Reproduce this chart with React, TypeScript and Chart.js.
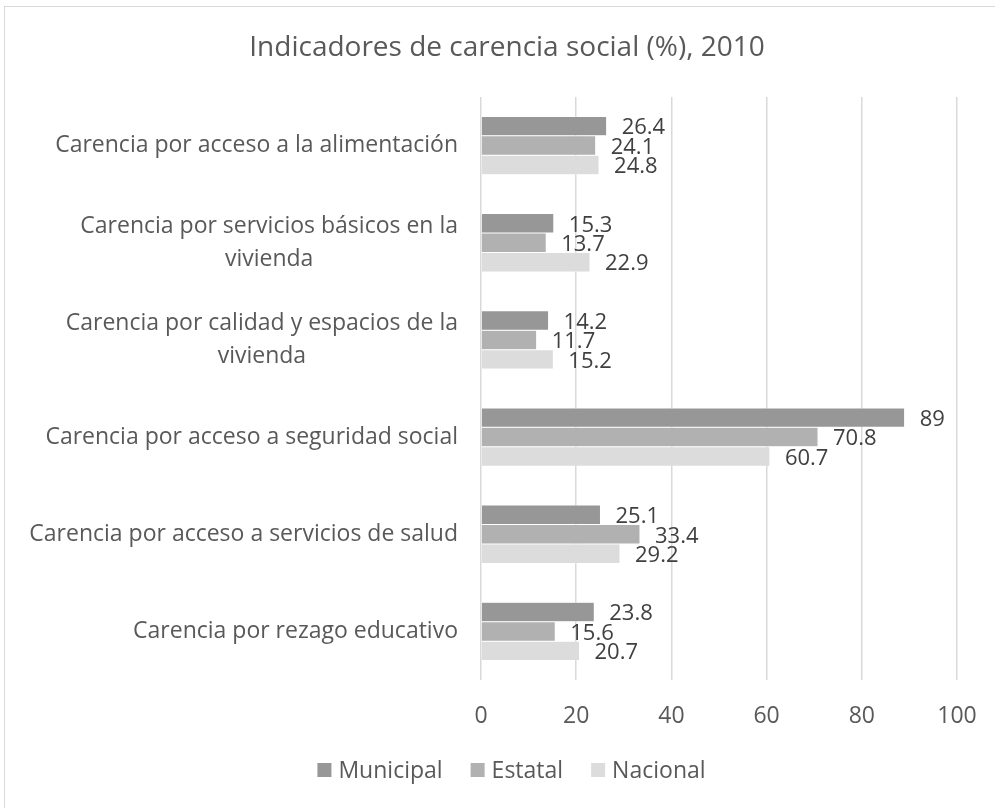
import { useEffect, useRef } from 'react';
import { Chart, registerables } from 'chart.js';

Chart.register(...registerables);

const categories: string[][] = [
  ['Carencia por acceso a la alimentación'],
  ['Carencia por servicios básicos en la', 'vivienda'],
  ['Carencia por calidad y espacios de la', 'vivienda'],
  ['Carencia por acceso a seguridad social'],
  ['Carencia por acceso a servicios de salud'],
  ['Carencia por rezago educativo'],
];
const seriesNames = ['Municipal', 'Estatal', 'Nacional'];
const municipal = [26.4, 15.3, 14.2, 89, 25.1, 23.8];
const estatal = [24.1, 13.7, 11.7, 70.8, 33.4, 15.6];
const nacional = [24.8, 22.9, 15.2, 60.7, 29.2, 20.7];
const xTicks = [0, 20, 40, 60, 80, 100];
const colors = ['#979797', '#b1b1b1', '#dcdcdc'];
const titleText = 'Indicadores de carencia social (%), 2010';

const FONT = '"Open Sans", "DejaVu Sans", sans-serif';
const TEXT = '#595959';
const LABEL_SIZE = 23;
const DATA_SIZE = 22;

const titlePlugin = {
  id: 'customTitle',
  afterDraw(chart: any) {
    const ctx = chart.ctx;
    ctx.save();
    ctx.font = `28px ${FONT}`;
    ctx.fillStyle = TEXT;
    ctx.textAlign = 'center';
    ctx.textBaseline = 'middle';
    ctx.fillText(titleText, 507, 48);
    ctx.restore();
  },
};

const yLabelPlugin = {
  id: 'yLabels',
  afterDraw(chart: any) {
    const scale = chart.scales.y;
    const ctx = chart.ctx;
    ctx.save();
    ctx.font = `${LABEL_SIZE}px ${FONT}`;
    ctx.fillStyle = TEXT;
    ctx.textBaseline = 'middle';
    ctx.textAlign = 'center';
    const lh = 33;
    categories.forEach((lines, i) => {
      const y = scale.getPixelForValue(i);
      const w = Math.max(...lines.map((l) => ctx.measureText(l).width));
      const right = scale.right - 23;
      const cx = right - w / 2;
      const y0 = y - ((lines.length - 1) * lh) / 2;
      lines.forEach((l, j) => ctx.fillText(l, cx, y0 + j * lh));
    });
    ctx.restore();
  },
};

const dataLabelPlugin = {
  id: 'dataLabels',
  afterDatasetsDraw(chart: any) {
    const ctx = chart.ctx;
    ctx.save();
    ctx.font = `${DATA_SIZE}px ${FONT}`;
    ctx.fillStyle = '#404040';
    ctx.textAlign = 'left';
    ctx.textBaseline = 'middle';
    chart.data.datasets.forEach((ds: any, di: number) => {
      chart.getDatasetMeta(di).data.forEach((bar: any, i: number) => {
        ctx.fillText(String(ds.data[i]), bar.x + 15, bar.y + 2);
      });
    });
    ctx.restore();
  },
};

const legendPlugin = {
  id: 'customLegend',
  afterDraw(chart: any) {
    const ctx = chart.ctx;
    ctx.save();
    ctx.font = `${LABEL_SIZE}px ${FONT}`;
    ctx.textBaseline = 'middle';
    ctx.textAlign = 'left';
    const box = 14;
    const gap = 7;
    const itemGap = 28;
    const widths = chart.data.datasets.map((ds: any) => ctx.measureText(ds.label).width);
    const total =
      widths.reduce((a: number, w: number) => a + box + gap + w, 0) + itemGap * (widths.length - 1);
    let x = 511.5 - total / 2;
    const cy = 770;
    chart.data.datasets.forEach((ds: any, i: number) => {
      ctx.fillStyle = ds.backgroundColor;
      ctx.fillRect(x, cy - box / 2, box, box);
      ctx.fillStyle = TEXT;
      ctx.fillText(ds.label, x + box + gap, cy + 1);
      x += box + gap + widths[i] + itemGap;
    });
    ctx.restore();
  },
};

export default function App() {
  const ref = useRef<HTMLCanvasElement>(null);
  useEffect(() => {
    const seriesData = [municipal, estatal, nacional];
    const chart = new Chart(ref.current!, {
      type: 'bar',
      data: {
        labels: categories.map((c) => c.join(' ')),
        datasets: seriesNames.map((name, i) => ({
          label: name,
          data: seriesData[i],
          backgroundColor: colors[i],
          borderColor: '#ffffff',
          borderWidth: 0.5,
          categoryPercentage: 0.6,
          barPercentage: 1,
        })),
      },
      options: {
        indexAxis: 'y',
        responsive: false,
        devicePixelRatio: 1,
        animation: false,
        layout: { padding: { left: 0, right: 38, top: 97, bottom: 73 } },
        plugins: {
          title: { display: false },
          legend: { display: false },
          tooltip: { enabled: false },
        },
        scales: {
          x: {
            min: 0,
            max: 100,
            afterBuildTicks: (scale: any) => {
              scale.ticks = xTicks.map((v) => ({ value: v }));
            },
            afterFit: (scale: any) => {
              scale.height = 55;
              scale.paddingLeft = 0;
              scale.paddingRight = 0;
            },
            ticks: {
              color: TEXT,
              padding: 23,
              font: { family: FONT, size: LABEL_SIZE },
            },
            grid: { color: '#d9d9d9', lineWidth: 1.5, drawTicks: false },
            border: { display: false },
          },
          y: {
            afterFit: (scale: any) => {
              scale.width = 481;
              scale.paddingTop = 0;
              scale.paddingBottom = 0;
            },
            ticks: { display: false },
            grid: { display: false },
            border: { display: false },
          },
        },
      },
      plugins: [titlePlugin, yLabelPlugin, dataLabelPlugin, legendPlugin],
    } as any);
    return () => chart.destroy();
  }, []);
  return (
    <div
      style={{
        position: 'fixed',
        left: 0,
        top: 0,
        width: 995,
        height: 808,
        overflow: 'hidden',
        background: '#ffffff',
      }}
    >
      <div
        style={{
          position: 'absolute',
          left: 4,
          top: 6,
          width: 1020,
          height: 840,
          border: '1px solid #d9d9d9',
          boxSizing: 'border-box',
        }}
      />
      <canvas
        ref={ref}
        width={995}
        height={808}
        style={{ position: 'absolute', left: 0, top: 0, width: 995, height: 808 }}
      />
    </div>
  );
}
